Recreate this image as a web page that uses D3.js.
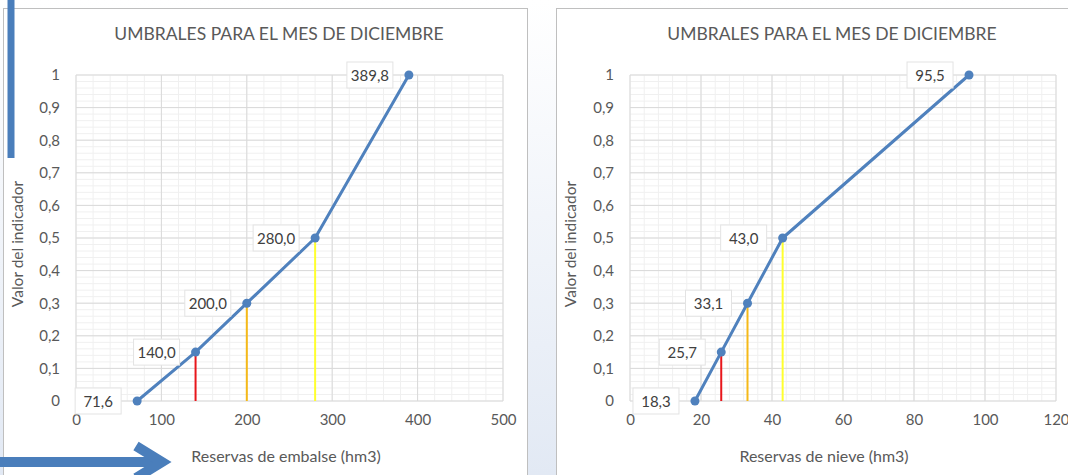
<!DOCTYPE html>
<html>
<head>
<meta charset="utf-8">
<script src="https://cdn.jsdelivr.net/npm/d3@7"></script>
<style>
html,body{margin:0;padding:0;background:#fff;}
svg{display:block;font-family:"Lato","Open Sans",sans-serif;}
</style>
</head>
<body>
<svg id="c" width="1068" height="475"></svg>
<script>
// ---- data ----
const indicatorValues = [0, 0.15, 0.3, 0.5, 1];
const embalseValues = [71.6, 140.0, 200.0, 280.0, 389.8];
const nieveValues = [18.3, 25.7, 33.1, 43.0, 95.5];
const thresholdColors = [null, "#e8161b", "#f5b918", "#ffff2e", null];
const yTicks = [0, 0.1, 0.2, 0.3, 0.4, 0.5, 0.6, 0.7, 0.8, 0.9, 1];
const embalseTicks = [0, 100, 200, 300, 400, 500];
const nieveTicks = [0, 20, 40, 60, 80, 100, 120];
const chartTitle = "UMBRALES PARA EL MES DE DICIEMBRE";
const yTitle = "Valor del indicador";
const embalseTitle = "Reservas de embalse (hm3)";
const nieveTitle = "Reservas de nieve (hm3)";

const svg = d3.select("#c");
const defs = svg.append("defs");
const grad = defs.append("linearGradient").attr("id","bg").attr("x1",0).attr("y1",0).attr("x2",0).attr("y2",1);
grad.append("stop").attr("offset","0%").attr("stop-color","#ffffff");
grad.append("stop").attr("offset","100%").attr("stop-color","#e2e9f4");
svg.append("rect").attr("width",1068).attr("height",475).attr("fill","url(#bg)");

const loc = d3.formatLocale({decimal:",", thousands:".", grouping:[3], currency:["","€"]});
const fmtY = v => v === 0 ? "0" : (v === 1 ? "1" : loc.format(".1f")(v));
const fmtLbl = loc.format(".1f");

function drawChart(opts){
  const g = svg.append("g");
  // panel
  g.append("rect").attr("x",opts.panel[0]+0.5).attr("y",opts.panel[1]+0.5)
    .attr("width",opts.panel[2]).attr("height",opts.panel[3])
    .attr("fill","#fff").attr("stroke","#bfbfbf").attr("stroke-width",1);

  const x = d3.scaleLinear().domain([opts.xTicks[0], opts.xTicks[opts.xTicks.length-1]]).range([opts.plot[0], opts.plot[1]]);
  const y = d3.scaleLinear().domain([0,1]).range([opts.plot[3], opts.plot[2]]);

  // minor grid
  const xStep = opts.xTicks[1]-opts.xTicks[0];
  const xMinor = d3.range(0, (opts.xTicks.length-1)*5+1).map(i => opts.xTicks[0] + i*xStep/5);
  const yMinor = d3.range(0, 51).map(i => i/50);
  g.append("g").selectAll("line").data(xMinor).join("line")
    .attr("x1",d=>x(d)).attr("x2",d=>x(d)).attr("y1",y(0)).attr("y2",y(1))
    .attr("stroke","#f0f0f0").attr("stroke-width",1);
  g.append("g").selectAll("line").data(yMinor).join("line")
    .attr("x1",x.range()[0]).attr("x2",x.range()[1]).attr("y1",d=>y(d)).attr("y2",d=>y(d))
    .attr("stroke","#f0f0f0").attr("stroke-width",1);
  // major grid
  g.append("g").selectAll("line").data(opts.xTicks).join("line")
    .attr("x1",d=>x(d)).attr("x2",d=>x(d)).attr("y1",y(0)).attr("y2",y(1))
    .attr("stroke","#d9d9d9").attr("stroke-width",1);
  g.append("g").selectAll("line").data(yTicks).join("line")
    .attr("x1",x.range()[0]).attr("x2",x.range()[1]).attr("y1",d=>y(d)).attr("y2",d=>y(d))
    .attr("stroke","#d9d9d9").attr("stroke-width",1);

  // axes via d3 axis (labels only)
  const xAxis = g.append("g").attr("transform",`translate(0,${y(0)})`)
    .call(d3.axisBottom(x).tickValues(opts.xTicks).tickSize(0).tickPadding(13).tickFormat(d=>String(d)));
  const yAxis = g.append("g").attr("transform",`translate(${x.range()[0]},0)`)
    .call(d3.axisLeft(y).tickValues(yTicks).tickSize(0).tickPadding(16).tickFormat(fmtY));
  [xAxis,yAxis].forEach(a=>{
    a.select(".domain").remove();
    a.selectAll("text").attr("fill","#595959").style("font-size","15px").style("font-family","Lato, sans-serif");
  });

  const pts = opts.xs.map((v,i)=>({x:v, y:indicatorValues[i], c:thresholdColors[i]}));

  // threshold drop lines
  g.append("g").selectAll("line").data(pts.filter(d=>d.c)).join("line")
    .attr("x1",d=>x(d.x)).attr("x2",d=>x(d.x)).attr("y1",y(0)).attr("y2",d=>y(d.y))
    .attr("stroke",d=>d.c).attr("stroke-width",2);

  // line
  g.append("path").datum(pts)
    .attr("d", d3.line().x(d=>x(d.x)).y(d=>y(d.y)))
    .attr("fill","none").attr("stroke","#4f81bd").attr("stroke-width",3).attr("stroke-linejoin","round");
  g.append("g").selectAll("circle").data(pts).join("circle")
    .attr("cx",d=>x(d.x)).attr("cy",d=>y(d.y)).attr("r",4.5).attr("fill","#4f81bd");

  // labels
  const lg = g.append("g").selectAll("g").data(pts).join("g")
    .attr("transform",d=>`translate(${x(d.x)-15},${y(d.y)})`);
  lg.append("rect").attr("x",-47).attr("y",-13).attr("width",46).attr("height",26)
    .attr("fill","#fff").attr("stroke","#e3e3e3").attr("stroke-width",1);
  lg.append("text").attr("x",-24).attr("y",5.5).attr("text-anchor","middle")
    .attr("fill","#404040").style("font-size","15px").text(d=>fmtLbl(d.x));

  // titles
  g.append("text").attr("x",opts.titleX).attr("y",40).attr("text-anchor","middle")
    .attr("fill","#595959").style("font-size","17.5px").text(chartTitle);
  g.append("text").attr("x",opts.xTitleX).attr("y",462).attr("text-anchor","middle")
    .attr("fill","#595959").style("font-size","16px").text(opts.xTitle);
  g.append("text").attr("transform",`translate(${opts.yTitleX},${(y(0)+y(1))/2+6}) rotate(-90)`)
    .attr("text-anchor","middle").attr("fill","#595959").style("font-size","15.5px").text(yTitle);
}

drawChart({panel:[3,8,524,480], plot:[76,503,75,401], xTicks:embalseTicks, xs:embalseValues,
  xTitle:embalseTitle, titleX:279, xTitleX:286, yTitleX:23});
drawChart({panel:[556,8,520,480], plot:[630,1056,75,401], xTicks:nieveTicks, xs:nieveValues,
  xTitle:nieveTitle, titleX:832, xTitleX:824, yTitleX:576});

// slide decorations (blue arrows)
const deco = svg.append("g").attr("fill","none").attr("stroke","#4a7ebb");
deco.append("line").attr("x1",11).attr("x2",11).attr("y1",0).attr("y2",158).attr("stroke-width",7);
deco.append("line").attr("x1",0).attr("x2",160).attr("y1",462).attr("y2",462).attr("stroke-width",10);
deco.append("polyline").attr("points","136,446 162,462 136,478").attr("stroke-width",10).attr("stroke-linejoin","miter");
</script>
</body>
</html>
